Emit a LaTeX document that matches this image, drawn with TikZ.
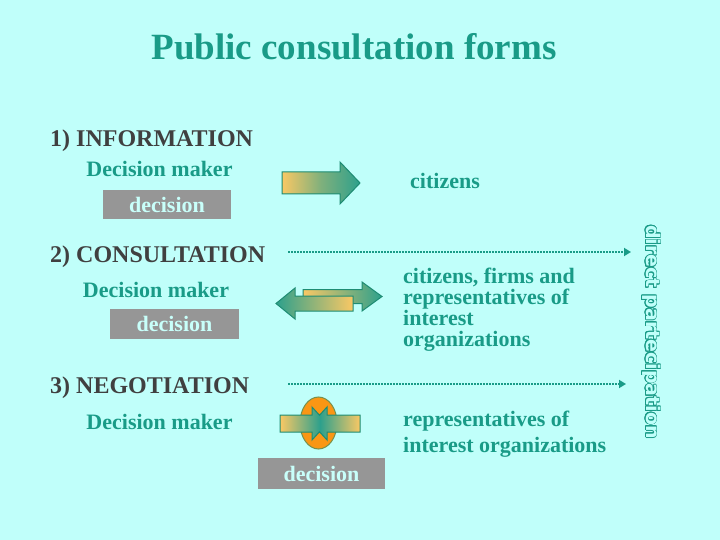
\documentclass[tikz,border=0pt]{standalone}
\usepackage{fontspec}
\setmainfont{Liberation Serif}
\newfontfamily\dpfont{DejaVu Sans}
\usepackage{contour}
\contourlength{0.8pt}
\usetikzlibrary{arrows.meta}
\definecolor{bg}{RGB}{192,255,250}
\definecolor{tealtxt}{RGB}{25,155,135}
\definecolor{darktxt}{RGB}{64,64,64}
\definecolor{boxgray}{RGB}{150,150,150}
\definecolor{boxtxt}{RGB}{200,255,250}
\definecolor{arrorange}{RGB}{250,200,100}
\definecolor{arrteal}{RGB}{45,160,140}
\definecolor{arredge}{RGB}{30,140,115}
\definecolor{ellorange}{RGB}{250,150,20}
\tikzset{
  heading/.style={anchor=base west, text=darktxt, font=\fontsize{24}{24}\selectfont\bfseries, inner sep=0pt},
  tealtext/.style={text=tealtxt, font=\fontsize{22}{22}\selectfont\bfseries, inner sep=0pt},
  decbox/.style={fill=boxgray, text=boxtxt, font=\fontsize{22}{22}\selectfont\bfseries, inner sep=0pt},
  dotline/.style={draw=tealtxt, line width=2pt, dash pattern=on 1.5pt off 1.5pt, -{Triangle[length=7pt,width=8pt]}},
  arrshape/.style={draw=arredge, line width=1pt},
}
\begin{document}
\begin{tikzpicture}[x=1pt,y=-1pt]
\fill[bg] (0,0) rectangle (720,540);
\useasboundingbox (0,0) rectangle (720,540);

% title
\node[anchor=base, text=tealtxt, font=\fontsize{37}{37}\selectfont\bfseries, inner sep=0pt] (title) at (354,60) {Public consultation forms};

% 1) information
\node[heading] (h1) at (50,147) {1) INFORMATION};
\node[tealtext, anchor=base] (dm1) at (159.5,177) {Decision maker};
\node[decbox, minimum width=128pt, minimum height=29pt] (dec1) at (167,204.5) {decision};
\shade[arrshape, left color=arrorange, right color=arrteal, middle color=arrorange!40!arrteal]
  (282,172) -- (340,172) -- (340,162) -- (360,183) -- (340,204) -- (340,194) -- (282,194) -- cycle;
\node[tealtext, anchor=base west] (cit1) at (410,189) {citizens};

% 2) consultation
\node[heading] (h2) at (50,262) {2) CONSULTATION};
\coordinate (d1s) at (288,252);
\coordinate (d1e) at (631,252);
\draw[dotline] (d1s) -- (d1e);
\node[tealtext, anchor=base] (dm2) at (156,297) {Decision maker};
\node[decbox, minimum width=129pt, minimum height=30pt] (dec2) at (174.5,324) {decision};
% right arrow (behind)
\shade[arrshape, left color=arrorange, right color=arrteal]
  (303,289.5) -- (362,289.5) -- (362,282) -- (382,296.5) -- (362,311) -- (362,303.5) -- (303,303.5) -- cycle;
% left arrow (front)
\shade[arrshape, left color=arrteal, right color=arrorange]
  (353,296) -- (295,296) -- (295,288) -- (276,303.5) -- (295,319) -- (295,311) -- (353,311) -- cycle;
\node[tealtext, anchor=north west, align=left, font=\fontsize{22}{21}\selectfont\bfseries] (cit2) at (403,268)
  {citizens, firms and\\representatives of\\interest\\organizations};

% 3) negotiation
\node[heading] (h3) at (50,393) {3) NEGOTIATION};
\coordinate (d2s) at (288,384);
\coordinate (d2e) at (626,384);
\draw[dotline] (d2s) -- (d2e);
\node[tealtext, anchor=base] (dm3) at (159.5,429) {Decision maker};
\fill[ellorange, draw=arredge!60!ellorange, line width=1pt] (318.5,423) ellipse (18.5pt and 26pt);
\shade[arrshape, left color=arrorange, right color=arrorange, middle color=arrteal]
  (280,415) -- (312,415) -- (312,407) -- (319.5,415.25) -- (327,407) -- (327,415) -- (360,415)
  -- (360,432) -- (327,432) -- (327,440) -- (319.5,431.75) -- (312,440) -- (312,432) -- (280,432) -- cycle;
\node[tealtext, anchor=base west] (rep3) at (403,426) {representatives of};
\node[tealtext, anchor=base west] (int3) at (403,452) {interest organizations};
\node[decbox, minimum width=127pt, minimum height=31pt] (dec3) at (321.5,473.5) {decision};

% direct participation
\node[rotate=-90, inner sep=0pt, font=\dpfont\bfseries\fontsize{19}{19}\selectfont] (dp) at (651,332)
  {\color{bg}\contour{tealtxt}{direct partecipation}};
\end{tikzpicture}
\end{document}
